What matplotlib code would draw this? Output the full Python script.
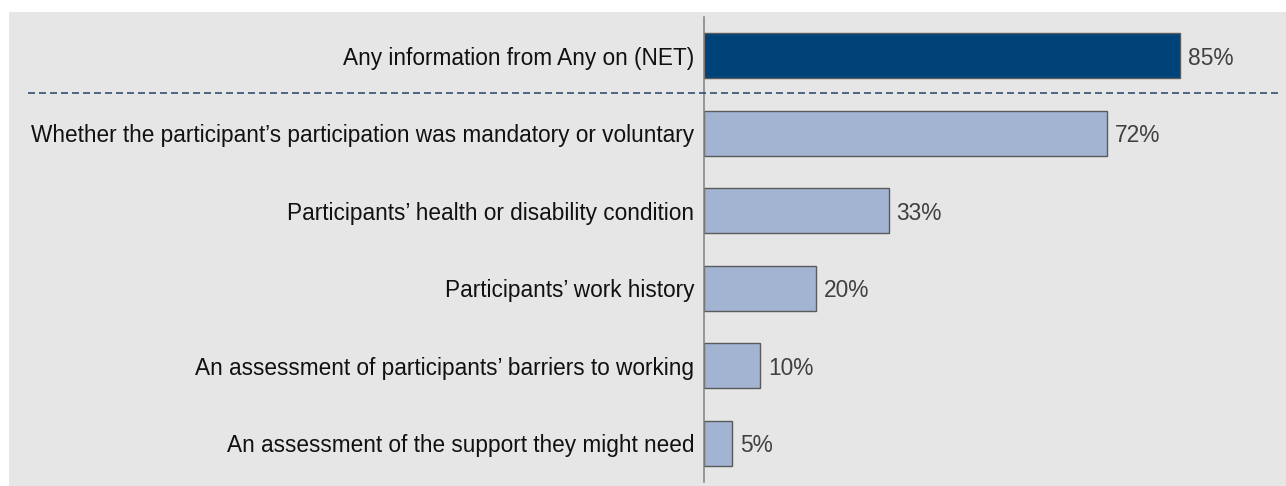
import matplotlib
matplotlib.use("Agg")
import matplotlib.pyplot as plt
from matplotlib.patches import Rectangle
from matplotlib.lines import Line2D

labels = [
    "Any information from Any on (NET)",
    "Whether the participant\u2019s participation was mandatory or voluntary",
    "Participants\u2019 health or disability condition",
    "Participants\u2019 work history",
    "An assessment of participants\u2019 barriers to working",
    "An assessment of the support they might need",
]
values = [85, 72, 33, 20, 10, 5]

NET_COLOR = "#004379"
ITEM_COLOR = "#a3b4d3"
BG = "#e6e6e6"

plt.rcParams['font.family'] = ['Liberation Sans', 'DejaVu Sans']

W, H = 1286, 486
fig = plt.figure(figsize=(W / 100, H / 100), dpi=100)
fig.patch.set_facecolor("white")

# grey panel behind everything
fig.patches.append(Rectangle((9 / W, 0), 1 - 9 / W, 1 - 12 / H,
                             transform=fig.transFigure, facecolor=BG,
                             edgecolor="none", zorder=-10))

ax_left, ax_bottom, ax_top = 704 / W, (H - 482) / H, (H - 17) / H
ax = fig.add_axes([ax_left, ax_bottom, 560 / W, ax_top - ax_bottom])
ax.set_facecolor(BG)

ypos = list(range(len(values)))
colors = [NET_COLOR] + [ITEM_COLOR] * (len(values) - 1)
ax.barh(ypos, values, height=0.58, color=colors, edgecolor="#5a5a5a",
        linewidth=1.0)

for y, v in zip(ypos, values):
    ax.text(v + 1.4, y + 0.03, f"{v}%", va="center", ha="left",
            fontsize=16.4, color="#404040")

ax.set_xlim(0, 100)
ax.set_ylim(len(values) - 0.5, -0.5)
ax.set_yticks(ypos)
ax.set_yticklabels(labels, fontsize=16.3, color="#111111")
ax.tick_params(axis="y", length=0, pad=7)
ax.set_xticks([])
for s in ["top", "right", "bottom"]:
    ax.spines[s].set_visible(False)
ax.spines["left"].set_color("#808080")
ax.spines["left"].set_linewidth(1.1)

# dashed separator between the NET bar and the individual items
sep_y = 1 - 93 / H
fig.add_artist(Line2D([28 / W, 1280 / W], [sep_y, sep_y],
                      transform=fig.transFigure, color="#34506e",
                      linewidth=1.2, linestyle=(0, (4.2, 2.4))))

fig.savefig("out.png", dpi=100, facecolor=fig.get_facecolor())
